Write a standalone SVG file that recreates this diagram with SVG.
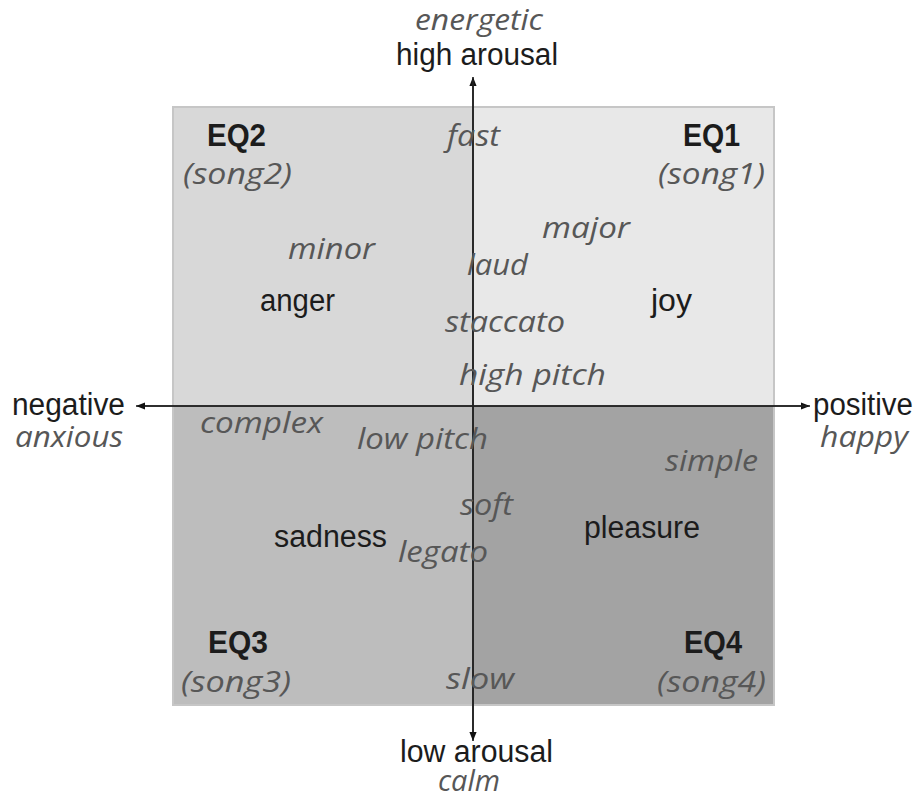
<svg xmlns="http://www.w3.org/2000/svg" width="921" height="798" viewBox="0 0 921 798">
<style>
.b{font-family:"Liberation Sans",Arial,sans-serif;font-size:31px;fill:#1c1c1c}
.bb{font-family:"Liberation Sans",Arial,sans-serif;font-size:31px;font-weight:bold;fill:#1c1c1c}
.i{font-family:"Open Sans","DejaVu Sans",sans-serif;font-style:italic;font-size:30px;fill:#575757}
.ax{stroke:#222;stroke-width:1.6;fill:none}
</style>
<defs>
<marker id="ah" viewBox="0 0 10 10" refX="10" refY="5" markerWidth="9" markerHeight="9" markerUnits="userSpaceOnUse" orient="auto"><path d="M0,1 L10,5 L0,9 z" fill="#111"/></marker>
</defs>
<g id="quadrants">
<rect x="173" y="107" width="300" height="299" fill="#d8d8d8"/>
<rect x="473" y="107" width="301" height="299" fill="#e8e8e8"/>
<rect x="173" y="406" width="300" height="299" fill="#bdbdbd"/>
<rect x="473" y="406" width="301" height="299" fill="#a3a3a3"/>
<rect x="173" y="107" width="601" height="598" fill="none" stroke="#c6c6c6" stroke-width="2"/>
</g>
<g id="connectors">
<line class="ax" x1="140" y1="406" x2="810" y2="406" marker-end="url(#ah)"/>
<line class="ax" x1="807" y1="406" x2="136" y2="406" marker-end="url(#ah)"/>
<line class="ax" x1="473" y1="738" x2="473" y2="77" marker-end="url(#ah)"/>
<line class="ax" x1="473" y1="80" x2="473" y2="741" marker-end="url(#ah)"/>
</g>
<g id="axis-top"><text class="i" x="415" y="30" textLength="128" lengthAdjust="spacingAndGlyphs">energetic</text><text class="b" x="396" y="65" textLength="162" lengthAdjust="spacingAndGlyphs">high arousal</text></g>
<g id="axis-bottom"><text class="b" x="400" y="762" textLength="153" lengthAdjust="spacingAndGlyphs">low arousal</text><text class="i" x="438" y="791" textLength="62" lengthAdjust="spacingAndGlyphs">calm</text></g>
<g id="axis-left"><text class="b" x="12" y="415" textLength="113" lengthAdjust="spacingAndGlyphs">negative</text><text class="i" x="15" y="447" textLength="108" lengthAdjust="spacingAndGlyphs">anxious</text></g>
<g id="axis-right"><text class="b" x="813" y="415" textLength="100" lengthAdjust="spacingAndGlyphs">positive</text><text class="i" x="820" y="447" textLength="88" lengthAdjust="spacingAndGlyphs">happy</text></g>
<g id="eq2"><text class="bb" x="207" y="146" textLength="59" lengthAdjust="spacingAndGlyphs">EQ2</text><text class="i" x="183" y="184" textLength="109" lengthAdjust="spacingAndGlyphs">(song2)</text></g>
<g id="eq1"><text class="bb" x="683" y="146" textLength="57" lengthAdjust="spacingAndGlyphs">EQ1</text><text class="i" x="658" y="184" textLength="107" lengthAdjust="spacingAndGlyphs">(song1)</text></g>
<g id="eq3"><text class="bb" x="208" y="653" textLength="60" lengthAdjust="spacingAndGlyphs">EQ3</text><text class="i" x="181" y="692" textLength="110" lengthAdjust="spacingAndGlyphs">(song3)</text></g>
<g id="eq4"><text class="bb" x="684" y="653" textLength="58" lengthAdjust="spacingAndGlyphs">EQ4</text><text class="i" x="657" y="692" textLength="109" lengthAdjust="spacingAndGlyphs">(song4)</text></g>
<g id="emotions">
<text class="b" x="260" y="311" textLength="75" lengthAdjust="spacingAndGlyphs">anger</text>
<text class="b" x="651" y="311" textLength="41" lengthAdjust="spacingAndGlyphs">joy</text>
<text class="b" x="274" y="547" textLength="113" lengthAdjust="spacingAndGlyphs">sadness</text>
<text class="b" x="584" y="538" textLength="116" lengthAdjust="spacingAndGlyphs">pleasure</text>
</g>
<g id="features">
<text class="i" x="447" y="146" textLength="53" lengthAdjust="spacingAndGlyphs">fast</text>
<text class="i" x="288" y="259" textLength="87" lengthAdjust="spacingAndGlyphs">minor</text>
<text class="i" x="542" y="238" textLength="88" lengthAdjust="spacingAndGlyphs">major</text>
<text class="i" x="467" y="275" textLength="61" lengthAdjust="spacingAndGlyphs">laud</text>
<text class="i" x="445" y="332" textLength="120" lengthAdjust="spacingAndGlyphs">staccato</text>
<text class="i" x="459" y="385" textLength="147" lengthAdjust="spacingAndGlyphs">high pitch</text>
<text class="i" x="200" y="433" textLength="123" lengthAdjust="spacingAndGlyphs">complex</text>
<text class="i" x="357" y="449" textLength="131" lengthAdjust="spacingAndGlyphs">low pitch</text>
<text class="i" x="665" y="471" textLength="93" lengthAdjust="spacingAndGlyphs">simple</text>
<text class="i" x="460" y="515" textLength="53" lengthAdjust="spacingAndGlyphs">soft</text>
<text class="i" x="398" y="562" textLength="90" lengthAdjust="spacingAndGlyphs">legato</text>
<text class="i" x="446" y="689" textLength="68" lengthAdjust="spacingAndGlyphs">slow</text>
</g>
</svg>
